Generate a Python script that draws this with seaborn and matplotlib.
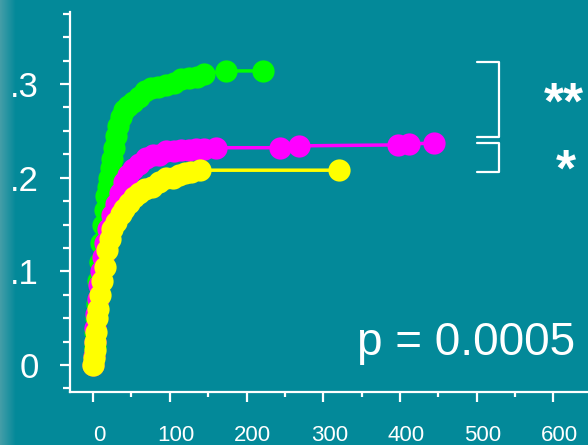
import numpy as np
import pandas as pd
import matplotlib
matplotlib.use("Agg")
import matplotlib.pyplot as plt
import matplotlib.transforms as mtransforms
from matplotlib.lines import Line2D
from matplotlib.ticker import MultipleLocator, FixedLocator, FixedFormatter
import seaborn as sns

# Cumulative curves for the three groups (time vs. fraction)
green_x = [0, 1, 2, 3, 4, 5, 7, 9, 11, 13, 15, 17, 19, 21, 23, 25, 27, 30, 33, 36,
           40, 45, 52, 60, 68, 76, 85, 95, 105, 115, 125, 135, 145, 173, 222]
green_y = [0.0, 0.01, 0.02, 0.035, 0.05, 0.065, 0.09, 0.11, 0.13, 0.15, 0.165, 0.18,
           0.19, 0.2, 0.21, 0.22, 0.232, 0.245, 0.255, 0.265, 0.272, 0.277, 0.281,
           0.286, 0.293, 0.296, 0.297, 0.299, 0.301, 0.305, 0.306, 0.308, 0.311,
           0.314, 0.314]

magenta_x = [0, 1, 2, 3, 4, 6, 8, 10, 13, 16, 20, 25, 30, 35, 40, 46, 52, 60, 69, 78,
             86, 95, 105, 115, 125, 134, 145, 160, 244, 268, 397, 412, 444]
magenta_y = [0.0, 0.01, 0.025, 0.04, 0.055, 0.07, 0.085, 0.1, 0.115, 0.13, 0.145, 0.16,
             0.172, 0.184, 0.195, 0.203, 0.209, 0.215, 0.221, 0.224, 0.224, 0.228,
             0.229, 0.23, 0.23, 0.231, 0.231, 0.232, 0.232, 0.234, 0.235, 0.236, 0.237]

yellow_x = [0, 1, 2, 3, 4, 5, 7, 9, 12, 15, 18, 22, 25, 30, 36, 41, 47, 53, 60, 68,
            77, 86, 95, 104, 112, 120, 128, 139, 321]
yellow_y = [0.0, 0.008, 0.016, 0.025, 0.035, 0.05, 0.06, 0.075, 0.09, 0.105, 0.123,
            0.135, 0.145, 0.153, 0.161, 0.167, 0.173, 0.179, 0.184, 0.188, 0.19,
            0.195, 0.2, 0.2, 0.203, 0.205, 0.206, 0.208, 0.208]

x_ticks = [0, 100, 200, 300, 400, 500, 600]
y_ticks = [0.0, 0.1, 0.2, 0.3]
y_tick_labels = ["0", ".1", ".2", ".3"]
p_label = "p = 0.0005"

BG = "#038999"
WHITE = "white"

sns.set_style("ticks", {"axes.facecolor": BG, "figure.facecolor": BG})
plt.rcParams["font.family"] = ["Liberation Sans", "DejaVu Sans"]

fig = plt.figure(figsize=(5.88, 4.45), dpi=100)
fig.patch.set_facecolor(BG)

# soft lighter band along the left edge
band = fig.add_axes([0, 0, 16 / 588, 1])
grad = np.linspace(0, 1, 64)[None, :]
c_edge = np.array([0.27, 0.62, 0.66])
c_bg = np.array(matplotlib.colors.to_rgb(BG))
img = c_edge[None, None, :] * (1 - grad[..., None]) + c_bg[None, None, :] * grad[..., None]
band.imshow(img, aspect="auto", extent=[0, 1, 0, 1])
band.axis("off")

ax = fig.add_axes([70 / 588, 53 / 445, 1 - 70 / 588, (392 - 12) / 445])
ax.set_facecolor(BG)

series = [
    (green_x, green_y, "#00ff00"),
    (magenta_x, magenta_y, "#ff00ff"),
    (yellow_x, yellow_y, "#ffff00"),
]
for xs, ys, col in series:
    df = pd.DataFrame({"t": xs, "v": ys})
    sns.lineplot(data=df, x="t", y="v", ax=ax, color=col, marker="o",
                 markersize=16, markeredgewidth=0, linewidth=2.5,
                 sort=False, estimator=None, clip_on=False)

ax.set_xlim(-30, 645)
ax.set_ylim(-0.0288, 0.3769)
ax.set_xlabel("")
ax.set_ylabel("")

for side in ["top", "right"]:
    ax.spines[side].set_visible(False)
for side in ["left", "bottom"]:
    ax.spines[side].set_color(WHITE)
    ax.spines[side].set_linewidth(1.6)

ax.xaxis.set_major_locator(FixedLocator(x_ticks))
ax.xaxis.set_minor_locator(MultipleLocator(50))
ax.yaxis.set_major_locator(FixedLocator(y_ticks))
ax.yaxis.set_major_formatter(FixedFormatter(y_tick_labels))
ax.yaxis.set_minor_locator(MultipleLocator(0.025))

ax.tick_params(axis="both", which="both", direction="out", colors=WHITE, width=1.6)
ax.tick_params(axis="y", which="major", length=7.5, labelsize=25, pad=15)
ax.tick_params(axis="y", which="minor", length=5)
ax.tick_params(axis="x", which="major", length=7.5, labelsize=16, pad=16)
ax.tick_params(axis="x", which="minor", length=3.5)

# nudge x tick labels slightly to the right
shift = mtransforms.ScaledTranslation(6 / 100, 0, fig.dpi_scale_trans)
for lab in ax.get_xticklabels():
    lab.set_transform(lab.get_transform() + shift)

# p-value
fig.text(575 / 588, 1 - 355 / 445, p_label, color=WHITE, fontsize=33,
         ha="right", va="baseline")

# significance brackets
def fx(px):
    return px / 588

def fy(py):
    return 1 - py / 445

for top, bot in [(62, 137), (143, 172)]:
    fig.add_artist(Line2D([fx(477), fx(499), fx(499), fx(477)],
                          [fy(top), fy(top), fy(bot), fy(bot)],
                          color=WHITE, linewidth=1.6, transform=fig.transFigure))

fig.text(fx(564), fy(119), "**", color=WHITE, fontsize=37, fontweight="bold",
         ha="center", va="baseline")
fig.text(fx(566), fy(186), "*", color=WHITE, fontsize=37, fontweight="bold",
         ha="center", va="baseline")

fig.savefig("out.png", dpi=100, facecolor=BG)
